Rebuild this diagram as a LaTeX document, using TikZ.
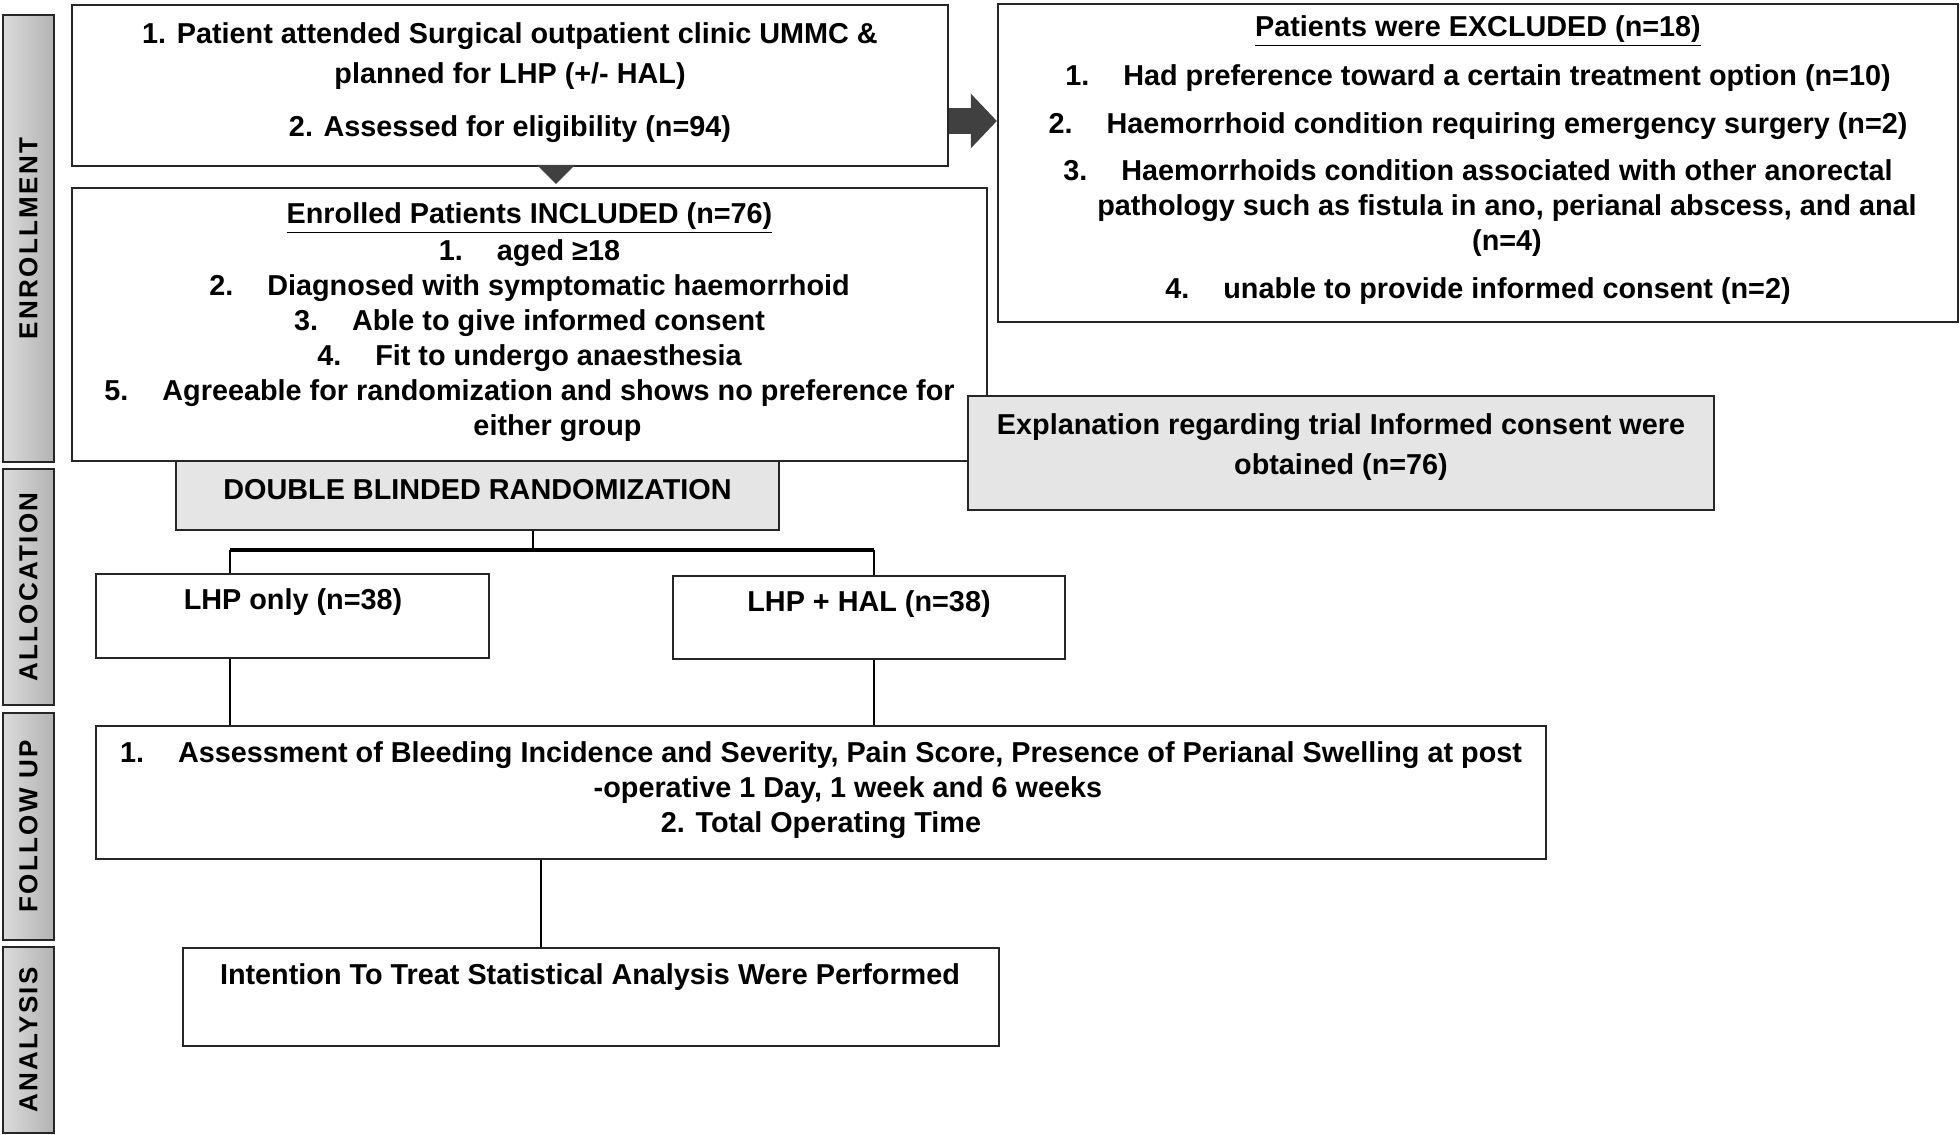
\documentclass[tikz,border=0pt]{standalone}
\usepackage{fontspec}
\setmainfont{Liberation Sans}
\usepackage{tikz}
\usetikzlibrary{positioning,fit,arrows.meta}

\newcommand{\itm}[1]{#1.\hspace{17pt}}

\begin{document}
\begin{tikzpicture}[x=0.5pt, y=0.5pt,
    box/.style = {draw=black!85, line width=1.1pt, inner sep=0pt},
    greybox/.style = {box, fill=black!10},
    phase/.style = {draw=black!85, line width=1.3pt, inner sep=0pt, left color=black!14, right color=black!30},
    phasetxt/.style = {rotate=90, inner sep=0pt, font=\fontsize{13}{13}\selectfont\bfseries\addfontfeature{LetterSpace=9}},
    txt/.style = {align=center, inner sep=0pt, font=\fontsize{14.4}{17.5}\selectfont\bfseries},
    link/.style = {line width=1.3pt},
    downtip/.style = {-{Triangle[length=9.5pt, width=19pt]}, line width=0.2pt, black!75, shorten >=1.5pt},
    sidearr/.style = {-{Triangle[length=13pt, width=26.5pt]}, line width=13pt, black!75}]
    \useasboundingbox (0,0) rectangle (1960,-1135);

    \node[phase, fit={(3,-15)(54,-462)}] (enr) {};
    \node[phase, fit={(3,-469)(54,-705)}] (alc) {};
    \node[phase, fit={(3,-713)(54,-940)}] (fol) {};
    \node[phase, fit={(3,-947)(54,-1133)}] (ana) {};
    \node[phasetxt] (enrT) at (enr.center) {ENROLLMENT};
    \node[phasetxt] (alcT) at (alc.center) {ALLOCATION};
    \node[phasetxt] (folT) at (fol.center) {FOLLOW UP};
    \node[phasetxt] (anaT) at (ana.center) {ANALYSIS};

    \node[box, fit={(72,-5)(948,-166)}] (scr) {};
    \node[box, fit={(72,-188)(987,-461)}] (incl) {};
    \node[box, fit={(998,-4)(1958,-322)}] (excl) {};
    \node[greybox, fit={(968,-396)(1714,-510)}] (expl) {};
    \node[greybox, fit={(176,-461)(779,-530)}] (dbr) {};
    \node[box, fit={(96,-574)(489,-658)}] (lhp) {};
    \node[box, fit={(673,-576)(1065,-659)}] (hal) {};
    \node[box, fit={(96,-726)(1546,-859)}] (fup) {};
    \node[box, fit={(183,-948)(999,-1046)}] (itt) {};

    \node[txt, font=\fontsize{14.4}{20}\selectfont\bfseries] (scrT) at (510,-83)
        {1. Patient attended Surgical outpatient clinic UMMC \&\\
         planned for LHP (+/- HAL)\\[6.5pt]
         2. Assessed for eligibility (n=94)};
    \node[txt] (inclT) at (529.5,-322)
        {\underline{Enrolled Patients INCLUDED (n=76)}\\[1pt]
         \itm{1}aged ≥18\\
         \itm{2}Diagnosed with symptomatic haemorrhoid\\
         \itm{3}Able to give informed consent\\
         \itm{4}Fit to undergo anaesthesia\\
         \itm{5}Agreeable for randomization and shows no preference for\\
         \hspace*{28pt}either group};
    \node[txt] (exclT) at (1478,-160)
        {\underline{Patients were EXCLUDED (n=18)}\\[7pt]
         \itm{1}Had preference toward a certain treatment option (n=10)\\[6.3pt]
         \itm{2}Haemorrhoid condition requiring emergency surgery (n=2)\\[6.3pt]
         \itm{3}Haemorrhoids condition associated with other anorectal\\
         \hspace*{29pt}pathology such as fistula in ano, perianal abscess, and anal\\
         \hspace*{29pt}(n=4)\\[6.3pt]
         \itm{4}unable to provide informed consent (n=2)};
    \node[txt, font=\fontsize{14.4}{20}\selectfont\bfseries] (explT) at (1341,-447)
        {Explanation regarding trial Informed consent were\\obtained (n=76)};
    \node[txt] (dbrT) at (477.5,-490) {DOUBLE BLINDED RANDOMIZATION};
    \node[txt] (lhpT) at (293,-602) {LHP only (n=38)};
    \node[txt] (halT) at (869,-604) {LHP + HAL (n=38)};
    \node[txt] (fupT) at (821,-790)
        {\itm{1}Assessment of Bleeding Incidence and Severity, Pain Score, Presence of Perianal Swelling at post\\
         \hspace*{27pt}-operative 1 Day, 1 week and 6 weeks\\
         2. Total Operating Time};
    \node[txt] (ittT) at (590,-977) {Intention To Treat Statistical Analysis Were Performed};

    \coordinate (dn) at (556,0);
    \coordinate (ex) at (0,-121);
    \draw[downtip] (scr.south -| dn) -- (incl.north -| dn);
    \draw[sidearr] (scr.east |- ex) -- (excl.west |- ex);

    \coordinate (jl) at (230,-550);
    \coordinate (jm) at (533,-550);
    \coordinate (jr) at (874,-550);
    \coordinate (jd) at (541,-900);
    \draw[link] (dbr.south -| jm) -- (jm);
    \draw[link, line width=2pt] (jl) -- (jr);
    \draw[link] (jl) -- (jl |- lhp.north);
    \draw[link] (jr) -- (jr |- hal.north);
    \draw[link] (jl |- lhp.south) -- (jl |- fup.north);
    \draw[link] (jr |- hal.south) -- (jr |- fup.north);
    \draw[link] (jd |- fup.south) -- (jd |- itt.north);
\end{tikzpicture}
\end{document}
